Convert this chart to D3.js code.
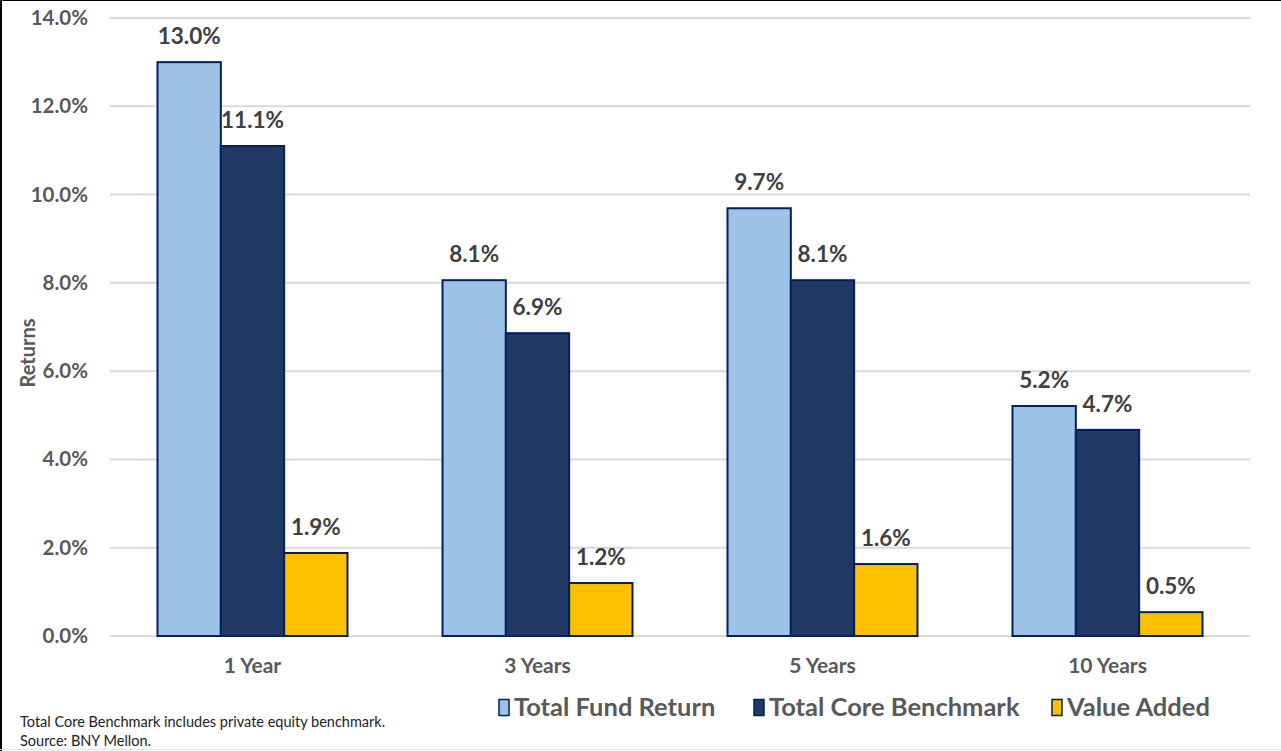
<!DOCTYPE html>
<html>
<head>
<meta charset="utf-8">
<script src="https://cdn.jsdelivr.net/npm/d3@7"></script>
<style>
  html, body { margin: 0; padding: 0; background: #fff; }
  svg { display: block; font-family: Lato, "Open Sans", sans-serif; }
</style>
</head>
<body>
<div id="chart"></div>
<script>
// data
var periods = ["1 Year", "3 Years", "5 Years", "10 Years"];
var seriesNames = ["Total Fund Return", "Total Core Benchmark", "Value Added"];
var fundReturn = [13.0, 8.06, 9.69, 5.21];
var coreBenchmark = [11.1, 6.86, 8.06, 4.67];
var valueAdded = [1.88, 1.2, 1.63, 0.54];
var yTicks = [0, 2, 4, 6, 8, 10, 12, 14];
var footnotes = ["Total Core Benchmark includes private equity benchmark.", "Source: BNY Mellon."];

var colors = ["#9DC3E6", "#1F3864", "#FFC000"];
var width = 1281, height = 751;
var margin = { top: 18, right: 31, bottom: 115, left: 110 };

var svg = d3.select("#chart").append("svg")
  .attr("width", width)
  .attr("height", height);

// frame edges like the original screenshot
svg.append("rect").attr("x", 0).attr("y", 0).attr("width", 2).attr("height", height).attr("fill", "#000");
svg.append("rect").attr("x", 0).attr("y", 0).attr("width", width).attr("height", 1).attr("fill", "#000");
svg.append("rect").attr("x", 0).attr("y", height - 2).attr("width", width).attr("height", 1).attr("fill", "#e6e6e6");

var rows = periods.map(function (p, i) {
  return { period: p, values: [fundReturn[i], coreBenchmark[i], valueAdded[i]] };
});

var x0 = d3.scaleBand()
  .domain(periods)
  .range([margin.left, width - margin.right])
  .paddingInner(1 / 3)
  .paddingOuter(1 / 6);

var x1 = d3.scaleBand()
  .domain([0, 1, 2])
  .range([0, x0.bandwidth()]);

var y = d3.scaleLinear()
  .domain([0, 14])
  .range([height - margin.bottom, margin.top]);

// gridlines
svg.append("g")
  .selectAll("line")
  .data(yTicks)
  .enter()
  .append("line")
  .attr("x1", margin.left)
  .attr("x2", width - margin.right)
  .attr("y1", function (d) { return y(d); })
  .attr("y2", function (d) { return y(d); })
  .attr("stroke", "#d9d9d9")
  .attr("stroke-width", 2);

// y axis labels
var yAxis = d3.axisLeft(y)
  .tickValues(yTicks)
  .tickSize(0)
  .tickPadding(22)
  .tickFormat(function (d) { return d3.format(".1f")(d) + "%"; });

var gy = svg.append("g")
  .attr("transform", "translate(" + margin.left + ",0)")
  .call(yAxis);
gy.select(".domain").remove();
gy.selectAll("text")
  .attr("fill", "#595959")
  .style("font-size", "20.5px")
  .style("font-weight", "bold")
  .style("font-family", "Lato, sans-serif");

// y axis title
svg.append("text")
  .attr("transform", "translate(35,353) rotate(-90)")
  .attr("text-anchor", "middle")
  .attr("fill", "#595959")
  .style("font-size", "20px")
  .style("font-weight", "bold")
  .text("Returns");

// x axis labels
var xAxis = d3.axisBottom(x0).tickSize(0).tickPadding(22);
var gx = svg.append("g")
  .attr("transform", "translate(0," + y(0) + ")")
  .call(xAxis);
gx.select(".domain").remove();
gx.selectAll("text")
  .attr("fill", "#595959")
  .style("font-size", "21px")
  .style("font-weight", "bold")
  .style("font-family", "Lato, sans-serif");

// bars
var groups = svg.append("g")
  .selectAll("g")
  .data(rows)
  .enter()
  .append("g")
  .attr("transform", function (d) { return "translate(" + x0(d.period) + ",0)"; });

groups.selectAll("rect")
  .data(function (d) { return d.values; })
  .enter()
  .append("rect")
  .attr("x", function (d, i) { return x1(i); })
  .attr("y", function (d) { return y(d); })
  .attr("width", x1.bandwidth())
  .attr("height", function (d) { return y(0) - y(d); })
  .attr("fill", function (d, i) { return colors[i]; })
  .attr("stroke", "#002060")
  .attr("stroke-width", 2);

// data labels
groups.selectAll("text")
  .data(function (d) { return d.values; })
  .enter()
  .append("text")
  .attr("x", function (d, i) { return x1(i) + x1.bandwidth() / 2; })
  .attr("y", function (d) { return y(d) - 18; })
  .attr("text-anchor", "middle")
  .attr("fill", "#404040")
  .style("font-size", "22.5px")
  .style("font-weight", "bold")
  .text(function (d) { return d3.format(".1f")(d) + "%"; });

// legend
var legendX = [499, 754, 1052];
var legend = svg.append("g")
  .selectAll("g")
  .data(seriesNames)
  .enter()
  .append("g")
  .attr("transform", function (d, i) { return "translate(" + legendX[i] + ",699)"; });

legend.append("rect")
  .attr("x", 0)
  .attr("y", 0.5)
  .attr("width", 10)
  .attr("height", 16)
  .attr("fill", function (d, i) { return colors[i]; })
  .attr("stroke", "#002060")
  .attr("stroke-width", 1.5);

legend.append("text")
  .attr("x", 15)
  .attr("y", 17)
  .attr("fill", "#595959")
  .style("font-size", "25.5px")
  .style("font-weight", "bold")
  .text(function (d) { return d; });

// footnotes
svg.append("g")
  .selectAll("text")
  .data(footnotes)
  .enter()
  .append("text")
  .attr("x", 20)
  .attr("y", function (d, i) { return 727 + i * 19; })
  .attr("fill", "#222")
  .style("font-size", "14.5px")
  .text(function (d) { return d; });
</script>
</body>
</html>
